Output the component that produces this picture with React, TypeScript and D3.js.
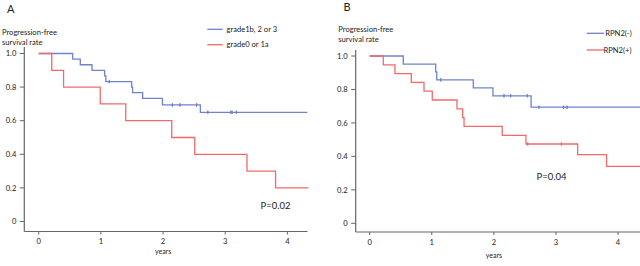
import React from "react";
import * as d3 from "d3";

type Pt = [number, number];

// Panel A data (years, survival)
const aBlueSteps: Pt[] = [[0, 1], [0.547, 0.967], [0.669, 0.933], [0.857, 0.9], [1.06, 0.867], [1.08, 0.833], [1.495, 0.8], [1.51, 0.767], [1.672, 0.733], [1.99, 0.694], [2.6, 0.65]];
const aBlueEnd = 4.32;
const aBlueCensor = [1.135, 2.15, 2.27, 2.54, 2.72, 3.09, 3.11, 3.18];
const aRedSteps: Pt[] = [[0, 1], [0.21, 0.9], [0.4, 0.8], [0.99, 0.7], [1.4, 0.6], [2.14, 0.5], [2.51, 0.4], [3.35, 0.3], [3.81, 0.2]];
const aRedEnd = 4.34;
const aRedCensor: number[] = [];

// Panel B data
const bBlueSteps: Pt[] = [[0, 1], [0.541, 0.952], [1.063, 0.905], [1.08, 0.857], [1.669, 0.81], [1.986, 0.762], [2.6, 0.694]];
const bBlueEnd = 4.4;
const bBlueCensor = [1.143, 2.163, 2.27, 2.54, 2.726, 3.124, 3.18];
const bRedSteps: Pt[] = [[0, 1], [0.219, 0.947], [0.407, 0.895], [0.67, 0.842], [0.875, 0.79], [1.008, 0.737], [1.406, 0.684], [1.498, 0.632], [1.52, 0.579], [2.135, 0.526], [2.517, 0.474], [3.35, 0.41], [3.816, 0.34]];
const bRedEnd = 4.4;
const bRedCensor = [2.545, 3.09];

const yTicks = [0, 0.2, 0.4, 0.6, 0.8, 1.0];
const xTicks = [0, 1, 2, 3, 4];

const BLUE = "#6f82cc";
const RED = "#f26a6a";
const AXIS = "#666";
const FONT = "Lato, 'Open Sans', sans-serif";

function stepValue(steps: Pt[], t: number) {
  let v = steps[0][1];
  for (const s of steps) if (s[0] <= t) v = s[1];
  return v;
}

function stepPath(steps: Pt[], end: number, x: d3.ScaleLinear<number, number>, y: d3.ScaleLinear<number, number>) {
  const pts: Pt[] = [...steps, [end, steps[steps.length - 1][1]]];
  const line = d3.line<Pt>().x(d => x(d[0])).y(d => y(d[1])).curve(d3.curveStepAfter);
  return line(pts) || "";
}

interface PanelProps {
  letter: string; letterX: number; letterY: number;
  labelX: number; labelY: number;
  x0: number; x4: number; y0: number; y1: number;
  axisX: number; axisTop: number; axisBottom: number; axisRight: number;
  blue: Pt[]; blueEnd: number; blueCensor: number[];
  red: Pt[]; redEnd: number; redCensor: number[];
  legBlue: string; legRed: string;
  legX1: number; legX2: number; legY1: number; legY2: number; legTextX1: number; legTextX2: number;
  pText: string; pX: number; pY: number;
  yearsY: number;
}

function Panel(p: PanelProps) {
  const x = d3.scaleLinear().domain([0, 4]).range([p.x0, p.x4]);
  const y = d3.scaleLinear().domain([0, 1]).range([p.y0, p.y1]);
  const censor = (list: number[], steps: Pt[], color: string) =>
    list.map((t, i) => {
      const cx = x(t), cy = y(stepValue(steps, t));
      return <g key={i}>
        <line x1={cx} x2={cx} y1={cy - 1.8} y2={cy + 1.8} stroke={color} strokeWidth={1.2} />
        <circle cx={cx} cy={cy} r={0.9} fill={color} />
      </g>;
    });
  return (
    <g fontFamily={FONT} fill="#222">
      <text x={p.letterX} y={p.letterY} fontSize={11}>{p.letter}</text>
      <text x={p.labelX} y={p.labelY} fontSize={7.6}>Progression-free</text>
      <text x={p.labelX} y={p.labelY + 10} fontSize={7.6}>survival rate</text>
      {/* axes */}
      <line x1={p.axisX} x2={p.axisX} y1={p.axisTop} y2={p.axisBottom} stroke={AXIS} strokeWidth={1.2} />
      <line x1={p.axisX} x2={p.axisRight} y1={p.axisBottom} y2={p.axisBottom} stroke={AXIS} strokeWidth={1.2} />
      {yTicks.map(t => (
        <g key={t}>
          <line x1={p.axisX - 4.5} x2={p.axisX} y1={y(t)} y2={y(t)} stroke={AXIS} strokeWidth={1} />
          <text x={p.axisX - 8} y={y(t)} dy="0.35em" textAnchor="end" fontSize={7.6}>{t === 0 ? "0" : t.toFixed(1)}</text>
        </g>
      ))}
      {xTicks.map(t => (
        <g key={t}>
          <line x1={x(t)} x2={x(t)} y1={p.axisBottom} y2={p.axisBottom + 3} stroke={AXIS} strokeWidth={1} />
          <text x={x(t)} y={p.axisBottom + 10} dy="0.35em" textAnchor="middle" fontSize={7.6}>{t}</text>
        </g>
      ))}
      <text x={(p.x0 + p.x4) / 2} y={p.yearsY} dy="0.35em" textAnchor="middle" fontSize={7}>years</text>
      {/* curves */}
      <path d={stepPath(p.blue, p.blueEnd, x, y)} fill="none" stroke={BLUE} strokeWidth={1.3} />
      {censor(p.blueCensor, p.blue, BLUE)}
      <path d={stepPath(p.red, p.redEnd, x, y)} fill="none" stroke={RED} strokeWidth={1.3} />
      {censor(p.redCensor, p.red, RED)}
      {/* legend */}
      <line x1={p.legX1} x2={p.legX2} y1={p.legY1} y2={p.legY1} stroke={BLUE} strokeWidth={1.3} />
      <text x={p.legTextX1} y={p.legY1} dy="0.35em" fontSize={7.6}>{p.legBlue}</text>
      <line x1={p.legX1} x2={p.legX2} y1={p.legY2} y2={p.legY2} stroke={RED} strokeWidth={1.3} />
      <text x={p.legTextX2} y={p.legY2} dy="0.35em" fontSize={7.6}>{p.legRed}</text>
      <text x={p.pX} y={p.pY} dy="0.35em" fontSize={9.5}>{p.pText}</text>
    </g>
  );
}

export default function App() {
  return (
    <svg width={640} height={266} style={{ position: "absolute", left: 0, top: 0, background: "#fff" }}>
      <rect width={640} height={266} fill="#fff" />
      <defs>
        <clipPath id="clipB"><rect x={320} y={0} width={320} height={266} /></clipPath>
      </defs>
      <Panel letter="A" letterX={7} letterY={13} labelX={2} labelY={34.5}
        x0={38.7} x4={287.4} y0={221.5} y1={53.5}
        axisX={24.3} axisTop={47} axisBottom={231.5} axisRight={307.5}
        blue={aBlueSteps} blueEnd={aBlueEnd} blueCensor={aBlueCensor}
        red={aRedSteps} redEnd={aRedEnd} redCensor={aRedCensor}
        legBlue="grade1b, 2 or 3" legRed="grade0 or 1a"
        legX1={207.3} legX2={222.7} legY1={29.3} legY2={44.7} legTextX1={226.5} legTextX2={226.5}
        pText="P=0.02" pX={260.5} pY={206} yearsY={252} />
      <g clipPath="url(#clipB)">
        <Panel letter="B" letterX={343.5} letterY={11} labelX={338.3} labelY={32}
          x0={369.7} x4={618} y0={223.3} y1={56}
          axisX={355.7} axisTop={50} axisBottom={232} axisRight={640}
          blue={bBlueSteps} blueEnd={bBlueEnd} blueCensor={bBlueCensor}
          red={bRedSteps} redEnd={bRedEnd} redCensor={bRedCensor}
          legBlue="RPN2(-)" legRed="RPN2(+)"
          legX1={586.7} legX2={604} legY1={33.3} legY2={50} legTextX1={605.3} legTextX2={603.5}
          pText="P=0.04" pX={536.5} pY={176.5} yearsY={255.7} />
      </g>
    </svg>
  );
}
